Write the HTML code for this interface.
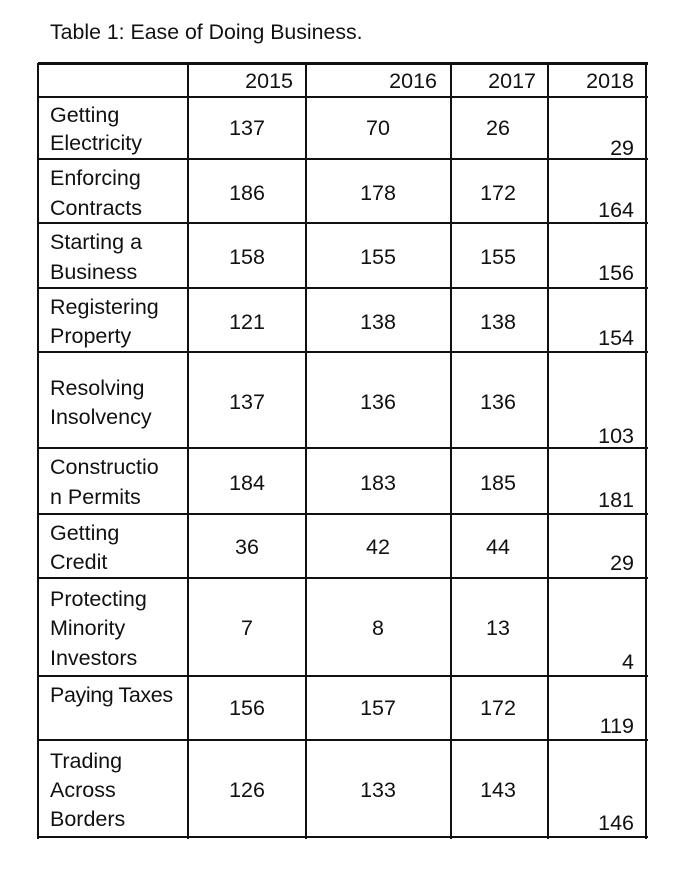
<!DOCTYPE html>
<html><head><meta charset="utf-8"><style>
body{margin:0;background:#fff;width:700px;height:888px;position:relative;overflow:hidden;font-family:"Liberation Sans",Arial,sans-serif;color:#111}
.t{position:absolute;font-size:21.5px;line-height:24px;white-space:nowrap}
.c{text-align:center;width:100px}
.r{text-align:right;width:100px}
.h{position:absolute;background:#111;height:2px;left:38px;width:610px}
.v{position:absolute;background:#111;width:2px;top:63px;height:776px}
</style></head><body>
<div class="t" style="left:50px;top:20px;font-size:21.3px">Table 1: Ease of Doing Business.</div>
<div class="h" style="top:62px;height:3px"></div>
<div class="h" style="top:96px"></div>
<div class="h" style="top:158px"></div>
<div class="h" style="top:222px"></div>
<div class="h" style="top:287px"></div>
<div class="h" style="top:351px"></div>
<div class="h" style="top:447px"></div>
<div class="h" style="top:513px"></div>
<div class="h" style="top:577px"></div>
<div class="h" style="top:675px"></div>
<div class="h" style="top:739px"></div>
<div class="h" style="top:836px"></div>
<div class="v" style="left:37px"></div>
<div class="v" style="left:187px"></div>
<div class="v" style="left:305px"></div>
<div class="v" style="left:450px"></div>
<div class="v" style="left:547px"></div>
<div class="v" style="left:645px"></div>

<div class="t r" style="left:193px;top:69px">2015</div>
<div class="t r" style="left:337px;top:69px">2016</div>
<div class="t r" style="left:436px;top:69px">2017</div>
<div class="t r" style="left:534px;top:69px">2018</div>

<div class="t" style="left:50px;top:103px">Getting</div>
<div class="t" style="left:50px;top:131px">Electricity</div>
<div class="t c" style="left:197px;top:116px">137</div>
<div class="t c" style="left:328px;top:116px">70</div>
<div class="t c" style="left:448px;top:116px">26</div>
<div class="t r" style="left:534px;top:136px">29</div>

<div class="t" style="left:50px;top:166px">Enforcing</div>
<div class="t" style="left:50px;top:196px">Contracts</div>
<div class="t c" style="left:197px;top:181px">186</div>
<div class="t c" style="left:328px;top:181px">178</div>
<div class="t c" style="left:448px;top:181px">172</div>
<div class="t r" style="left:534px;top:198px">164</div>

<div class="t" style="left:50px;top:230px">Starting a</div>
<div class="t" style="left:50px;top:260px">Business</div>
<div class="t c" style="left:197px;top:245px">158</div>
<div class="t c" style="left:328px;top:245px">155</div>
<div class="t c" style="left:448px;top:245px">155</div>
<div class="t r" style="left:534px;top:261px">156</div>

<div class="t" style="left:50px;top:295px">Registering</div>
<div class="t" style="left:50px;top:324px">Property</div>
<div class="t c" style="left:197px;top:310px">121</div>
<div class="t c" style="left:328px;top:310px">138</div>
<div class="t c" style="left:448px;top:310px">138</div>
<div class="t r" style="left:534px;top:326px">154</div>

<div class="t" style="left:50px;top:376px">Resolving</div>
<div class="t" style="left:50px;top:405px">Insolvency</div>
<div class="t c" style="left:197px;top:390px">137</div>
<div class="t c" style="left:328px;top:390px">136</div>
<div class="t c" style="left:448px;top:390px">136</div>
<div class="t r" style="left:534px;top:424px">103</div>

<div class="t" style="left:50px;top:455px">Constructio</div>
<div class="t" style="left:50px;top:485px">n Permits</div>
<div class="t c" style="left:197px;top:471px">184</div>
<div class="t c" style="left:328px;top:471px">183</div>
<div class="t c" style="left:448px;top:471px">185</div>
<div class="t r" style="left:534px;top:488px">181</div>

<div class="t" style="left:50px;top:521px">Getting</div>
<div class="t" style="left:50px;top:550px">Credit</div>
<div class="t c" style="left:197px;top:535px">36</div>
<div class="t c" style="left:328px;top:535px">42</div>
<div class="t c" style="left:448px;top:535px">44</div>
<div class="t r" style="left:534px;top:551px">29</div>

<div class="t" style="left:50px;top:587px">Protecting</div>
<div class="t" style="left:50px;top:616px">Minority</div>
<div class="t" style="left:50px;top:646px">Investors</div>
<div class="t c" style="left:197px;top:616px">7</div>
<div class="t c" style="left:328px;top:616px">8</div>
<div class="t c" style="left:448px;top:616px">13</div>
<div class="t r" style="left:534px;top:650px">4</div>

<div class="t" style="left:50px;top:683px;letter-spacing:-0.4px">Paying Taxes</div>
<div class="t c" style="left:197px;top:696px">156</div>
<div class="t c" style="left:328px;top:696px">157</div>
<div class="t c" style="left:448px;top:696px">172</div>
<div class="t r" style="left:534px;top:714px">119</div>

<div class="t" style="left:50px;top:749px">Trading</div>
<div class="t" style="left:50px;top:778px">Across</div>
<div class="t" style="left:50px;top:807px">Borders</div>
<div class="t c" style="left:197px;top:778px">126</div>
<div class="t c" style="left:328px;top:778px">133</div>
<div class="t c" style="left:448px;top:778px">143</div>
<div class="t r" style="left:534px;top:811px">146</div>
</body></html>
